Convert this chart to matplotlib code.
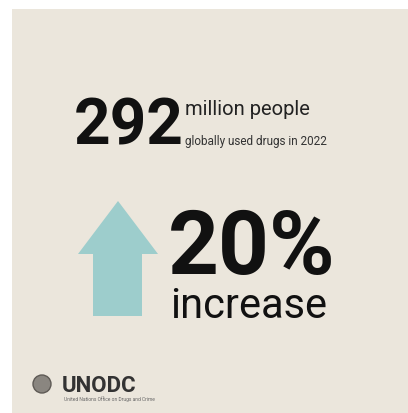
import matplotlib
matplotlib.use("Agg")
import matplotlib.pyplot as plt
from matplotlib.patches import Polygon, Rectangle, Circle

# valores del infografico
personas = "292"
personas_txt = "million people"
personas_sub = "globally used drugs in 2022"
aumento = "20%"
aumento_txt = "increase"
org = "UNODC"
org_sub = "United Nations Office on Drugs and Crime"

fondo = "#ebe6dc"
color_flecha = "#9dcdcc"
negro = "#111111"
fuente = ["Roboto", "DejaVu Sans"]

fig = plt.figure(figsize=(4.08, 4.14), dpi=100)
fig.patch.set_facecolor("white")
ax = fig.add_axes([0, 0, 1, 1])
ax.set_xlim(0, 408)
ax.set_ylim(414, 0)
ax.axis("off")

# panel beige
ax.add_patch(Rectangle((12, 10), 396, 404, facecolor=fondo, edgecolor="none"))

# 292 million people
ax.text(74, 145, personas, fontsize=46, fontweight="bold", family=fuente,
        color=negro, va="baseline", ha="left")
ax.text(185, 115, personas_txt, fontsize=14.5, family=fuente,
        color="#222222", va="baseline", ha="left")
ax.text(185, 145, personas_sub, fontsize=8.5, family=fuente,
        color="#333333", va="baseline", ha="left")

# flecha
flecha = [(78, 255), (118, 202), (158, 255), (142, 255), (142, 317),
          (93, 317), (93, 255)]
ax.add_patch(Polygon(flecha, closed=True, facecolor=color_flecha, edgecolor="none"))

# 20% increase
ax.text(168, 274, aumento, fontsize=64, fontweight="bold", family=fuente,
        color=negro, va="baseline", ha="left")
ax.text(170, 318, aumento_txt, fontsize=30, family=fuente,
        color=negro, va="baseline", ha="left")

# logo
ax.add_patch(Circle((42, 385), 9, facecolor="#8a8680", edgecolor="#5e5a55", lw=1))
ax.text(62, 392, org, fontsize=16, fontweight="bold", family=fuente,
        color="#333333", va="baseline", ha="left")
ax.text(64, 401, org_sub, fontsize=3.5, family=fuente,
        color="#666666", va="baseline", ha="left")

fig.savefig("out.png", dpi=100, facecolor=fig.get_facecolor())
